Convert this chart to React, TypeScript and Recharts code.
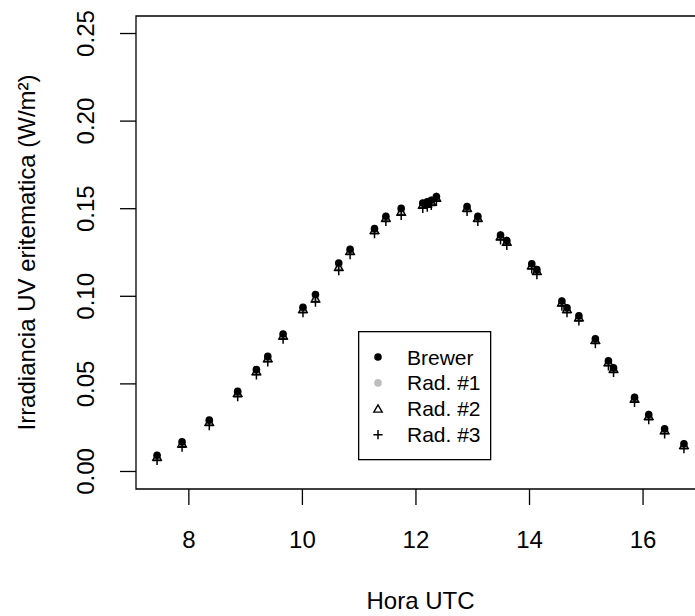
import React from 'react';
import { ScatterChart, Scatter, XAxis, YAxis, ReferenceArea, Legend } from 'recharts';

const horas = [
  7.44, 7.88, 8.36, 8.86, 9.19, 9.39, 9.66, 10.01, 10.23, 10.64, 10.84, 11.27, 11.47, 11.74,
  12.12, 12.2, 12.27, 12.36, 12.9, 13.09, 13.49, 13.6, 14.04, 14.13, 14.57, 14.66, 14.87,
  15.16, 15.39, 15.48, 15.85, 16.1, 16.38, 16.72,
];

const brewer = [
  0.0093, 0.0169, 0.0293, 0.0457, 0.0582, 0.0657, 0.0785, 0.0937, 0.101, 0.119, 0.1268, 0.1386,
  0.1457, 0.1502, 0.1532, 0.1539, 0.1548, 0.157, 0.1513, 0.1456, 0.135, 0.1318, 0.1186, 0.1152,
  0.0973, 0.0934, 0.0888, 0.0758, 0.0632, 0.0592, 0.0424, 0.0325, 0.0244, 0.0158,
];

const rad1 = [
  0.0085, 0.0161, 0.0284, 0.0449, 0.0574, 0.0648, 0.0777, 0.0928, 0.099, 0.117, 0.1259, 0.1379,
  0.1448, 0.1485, 0.1523, 0.153, 0.1541, 0.1563, 0.1505, 0.1449, 0.1343, 0.1312, 0.1177, 0.1145,
  0.0965, 0.0927, 0.088, 0.0751, 0.0624, 0.0586, 0.0416, 0.0317, 0.0236, 0.0151,
];

const rad2 = [
  0.0081, 0.0157, 0.028, 0.0445, 0.057, 0.0644, 0.0773, 0.0924, 0.0985, 0.1165, 0.1256, 0.1375,
  0.1445, 0.148, 0.152, 0.1527, 0.1537, 0.156, 0.1502, 0.1445, 0.134, 0.1309, 0.1174, 0.1142,
  0.0962, 0.0924, 0.0877, 0.0748, 0.0621, 0.0583, 0.0413, 0.0314, 0.0233, 0.0148,
];

const rad3 = [
  0.0063, 0.0139, 0.0262, 0.0427, 0.0552, 0.0626, 0.0755, 0.0906, 0.0967, 0.1147, 0.1238, 0.1357,
  0.1427, 0.1462, 0.1502, 0.1509, 0.1519, 0.1542, 0.1484, 0.1427, 0.1322, 0.1291, 0.1156, 0.1124,
  0.0944, 0.0906, 0.0859, 0.073, 0.0603, 0.0565, 0.0395, 0.0296, 0.0215, 0.013,
];

const xTicks = [8, 10, 12, 14, 16];
const yTicks = [0, 0.05, 0.1, 0.15, 0.2, 0.25];
const xDomain = [7.069, 17.091];
const yDomain = [-0.01, 0.26];

const FONT = '"Liberation Sans", Arial, Helvetica, sans-serif';
const AXIS_FS = 24;
const LEG_FS = 21;
const toPoints = (vals: number[]) => vals.map((y, i) => ({ x: horas[i], y }));

const Dot = ({ cx, cy, fill }: any) => <circle cx={cx} cy={cy} r={3.8} fill={fill} />;
const Tri = ({ cx, cy }: any) => (
  <polygon
    points={`${cx},${cy - 4.5} ${cx - 4.2},${cy + 2.8} ${cx + 4.2},${cy + 2.8}`}
    fill="none"
    stroke="#000"
    strokeWidth={1.4}
  />
);
const Plus = ({ cx, cy }: any) => (
  <path d={`M${cx - 4.6},${cy}H${cx + 4.6}M${cx},${cy - 4.6}V${cy + 4.6}`} stroke="#000" strokeWidth={1.5} />
);

const XTick = ({ x, y, payload }: any) => (
  <text x={x} y={y + 34} textAnchor="middle" dominantBaseline="central" fontSize={AXIS_FS} fontFamily={FONT} fill="#000">
    {payload.value}
  </text>
);

const YTick = ({ x, y, payload }: any) => (
  <text
    x={x - 34}
    y={y}
    transform={`rotate(-90, ${x - 34}, ${y})`}
    textAnchor="middle"
    dominantBaseline="central"
    fontSize={AXIS_FS}
    fontFamily={FONT}
    fill="#000"
  >
    {payload.value.toFixed(2)}
  </text>
);

const legendItems = [
  { label: 'Brewer', kind: 'dot', color: '#000' },
  { label: 'Rad. #1', kind: 'dot', color: '#bebebe' },
  { label: 'Rad. #2', kind: 'tri', color: '#000' },
  { label: 'Rad. #3', kind: 'plus', color: '#000' },
];

const LegendBox = () => (
  <svg width={134} height={130} style={{ display: 'block' }}>
    <rect x={0.65} y={0.65} width={132} height={128} fill="#fff" stroke="#000" strokeWidth={1.3} />
    {legendItems.map((it, i) => {
      const cy = 26 + i * 25.9;
      return (
        <g key={it.label}>
          {it.kind === 'dot' && <Dot cx={20} cy={cy} fill={it.color} />}
          {it.kind === 'tri' && <Tri cx={20} cy={cy + 0.5} />}
          {it.kind === 'plus' && <Plus cx={20} cy={cy} />}
          <text x={49} y={cy} dominantBaseline="central" fontSize={LEG_FS} fontFamily={FONT} fill="#000">
            {it.label}
          </text>
        </g>
      );
    })}
  </svg>
);

export default function App() {
  return (
    <div style={{ position: 'absolute', left: 0, top: 0, width: 695, height: 616, overflow: 'hidden', background: '#fff' }}>
      <ScatterChart width={720} height={616} margin={{ top: 16, right: 15, bottom: 67, left: 0 }}>
        <XAxis
          type="number"
          dataKey="x"
          domain={xDomain}
          allowDataOverflow
          ticks={xTicks}
          tick={<XTick />}
          tickSize={16}
          tickMargin={0}
          axisLine={false}
          tickLine={{ stroke: '#000', strokeWidth: 1.3 }}
          height={60}
          label={{
            content: ({ viewBox }: any) => (
              <text
                x={viewBox.x + viewBox.width / 2}
                y={600}
                textAnchor="middle"
                dominantBaseline="central"
                fontSize={AXIS_FS}
                fontFamily={FONT}
                fill="#000"
              >
                Hora UTC
              </text>
            ),
          }}
        />
        <YAxis
          type="number"
          dataKey="y"
          domain={yDomain}
          allowDataOverflow
          ticks={yTicks}
          tick={<YTick />}
          tickSize={16}
          tickMargin={0}
          axisLine={false}
          tickLine={{ stroke: '#000', strokeWidth: 1.3 }}
          width={136}
          label={{
            content: ({ viewBox }: any) => {
              const cy = viewBox.y + viewBox.height / 2;
              return (
                <text
                  x={26}
                  y={cy}
                  transform={`rotate(-90, 26, ${cy})`}
                  textAnchor="middle"
                  dominantBaseline="central"
                  fontSize={AXIS_FS}
                  fontFamily={FONT}
                  fill="#000"
                >
                  Irradiancia UV eritematica (W/m²)
                </text>
              );
            },
          }}
        />
        <ReferenceArea
          x1={xDomain[0]}
          x2={xDomain[1]}
          y1={yDomain[0]}
          y2={yDomain[1]}
          fill="none"
          stroke="#000"
          strokeWidth={1.3}
          ifOverflow="visible"
        />
        <Scatter name="Rad. #1" data={toPoints(rad1)} shape={(p: any) => <Dot {...p} fill="#bebebe" />} isAnimationActive={false} />
        <Scatter name="Brewer" data={toPoints(brewer)} shape={(p: any) => <Dot {...p} fill="#000" />} isAnimationActive={false} />
        <Scatter name="Rad. #2" data={toPoints(rad2)} shape={(p: any) => <Tri {...p} />} isAnimationActive={false} />
        <Scatter name="Rad. #3" data={toPoints(rad3)} shape={(p: any) => <Plus {...p} />} isAnimationActive={false} />
        <Legend
          layout="vertical"
          align="center"
          verticalAlign="middle"
          content={() => <LegendBox />}
          wrapperStyle={{ position: 'absolute', left: 358, top: 331, width: 134, height: 130 }}
        />
      </ScatterChart>
    </div>
  );
}
